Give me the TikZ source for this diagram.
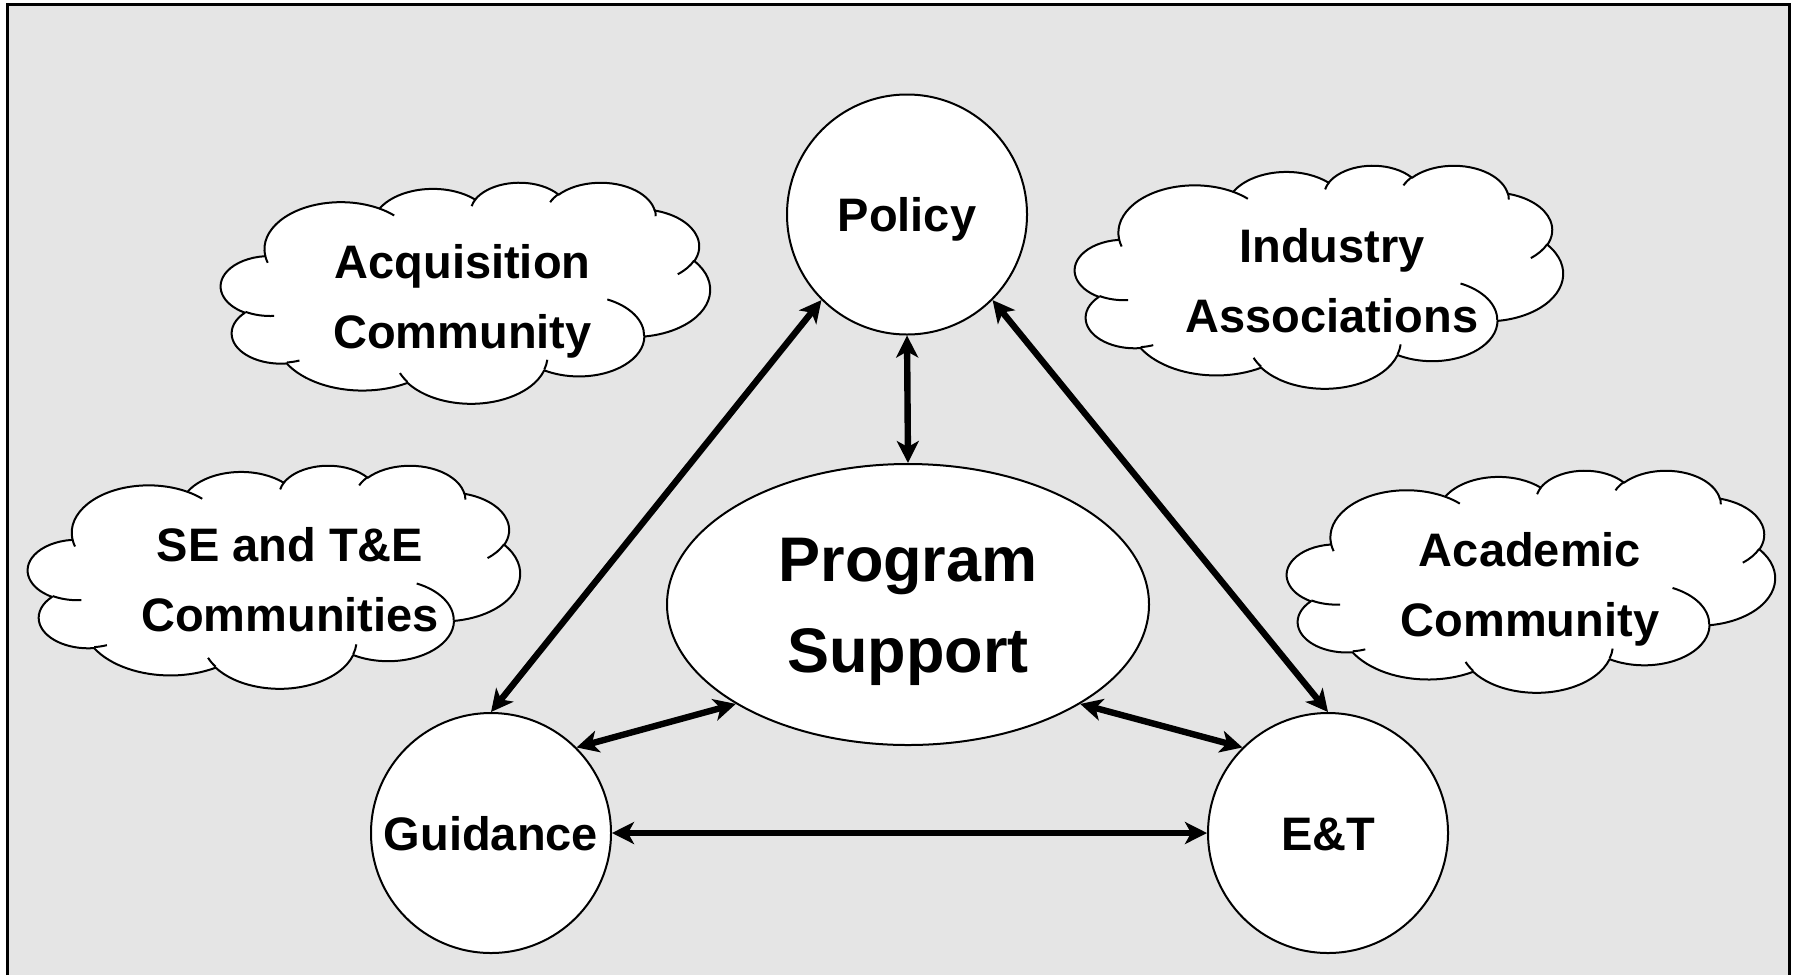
\documentclass[tikz,border=0pt]{standalone}
\usepackage{fontspec}
\setmainfont{Liberation Sans}
\usetikzlibrary{arrows.meta,shapes.geometric}
\definecolor{bggray}{RGB}{229,229,229}
\newcommand\cloudarc[4]{arc[start angle={pa(#3,#1,#2)}, end angle={pa(#3+#4,#1,#2)}, x radius=#1, y radius=#2]}
\newcommand\cstrut{\rule[-12pt]{0pt}{24pt}}
\newcommand\psstrut{\rule[-7pt]{0pt}{36pt}}
\newcommand\pptcloud[4]{%
\begin{scope}[shift={(#1,#2)},xscale=#3/432,yscale=#4/432]
\draw[cloudline,fill=white] (39.00,143.70)
 \cloudarc{67.53}{91.90}{-190.4875}{123.7805}
 \cloudarc{53.33}{72.67}{-144.1024}{89.9452}
 \cloudarc{43.65}{59.45}{-145.8079}{99.7230}
 \cloudarc{48.57}{65.95}{-130.9861}{117.2417}
 \cloudarc{53.33}{72.73}{-78.7089}{109.0269}
 \cloudarc{67.75}{92.20}{-46.2673}{130.2690}
 \cloudarc{57.85}{78.67}{0.6250}{114.0333}
 \cloudarc{67.52}{92.15}{22.4516}{115.1726}
 \cloudarc{77.20}{105.43}{66.2426}{75.7110}
 \cloudarc{43.60}{59.18}{-274.9421}{146.7356}
 \cloudarc{43.45}{59.45}{-246.8285}{152.5189}
 -- cycle;
\draw[cloudline]
 (46.93,261.77) \cloudarc{43.45}{59.45}{86.7420}{26.4295}
 (69.28,348.99) \cloudarc{43.60}{59.18}{73.6105}{11.4475}
 (164.78,390.90) \cloudarc{67.52}{92.15}{137.6242}{14.0811}
 (288.27,347.51) \cloudarc{67.52}{92.15}{6.4533}{15.9984}
 (341.29,229.54) \cloudarc{57.85}{78.67}{-70.2924}{70.9174}
 (417.98,153.54) \cloudarc{53.33}{72.73}{30.3180}{27.7515}
 (383.24,54.26) \cloudarc{48.57}{65.95}{-13.7443}{14.8589}
 (290.78,39.52) \cloudarc{48.57}{65.95}{-149.1815}{18.1954}
 (221.41,47.20) \cloudarc{43.65}{59.45}{-163.4943}{17.6864}
 (140.00,51.92) \cloudarc{67.53}{91.90}{-66.7070}{12.3194}
 (41.27,157.89) \cloudarc{67.53}{91.90}{157.6544}{11.8582};
\end{scope}}
\begin{document}
\begin{tikzpicture}[x=0.5pt,y=-0.5pt,
  declare function={pa(\cA,\cW,\cH)=\cA+Mod(atan2(\cW*sin(\cA),\cH*cos(\cA))-\cA+180,360)-180;},
  cloudline/.style={line width=1pt,line join=round},
  circ/.style={circle,draw,line width=1pt,fill=white,minimum size=120pt,inner sep=0pt,
    font=\bfseries\fontsize{23.5pt}{35pt}\selectfont,text height=17pt,text depth=0pt},
  ell/.style={ellipse,draw,line width=1pt,fill=white,minimum width=241pt,minimum height=140.5pt,
    inner sep=0pt,align=center,font=\bfseries\fontsize{31.5pt}{45.5pt}\selectfont},
  cloudtext/.style={inner sep=0pt,align=center,font=\bfseries\fontsize{23.5pt}{35pt}\selectfont},
  biarrow/.style={line width=3.2pt,
    {Stealth[length=11pt,width=11pt,inset=3pt]}-{Stealth[length=11pt,width=11pt,inset=3pt]}}]
\useasboundingbox (0,0) rectangle (1797,975);
\fill[white] (0,0) rectangle (1797,975);
\fill[bggray] (6,3) rectangle (1791,975);
\draw[line width=1.5pt] (7.5,975) -- (7.5,4.5) -- (1789.5,4.5) -- (1789.5,975);
% clouds
\pptcloud{221}{182}{489}{221}
\pptcloud{1075}{165}{488}{223}
\pptcloud{28}{465}{492}{223}
\pptcloud{1287}{470}{488}{222}
\node[cloudtext] (acq) at (462.5,308) {\cstrut Acquisition\\\cstrut Community};
\node[cloudtext] (ind) at (1332,292.5) {\cstrut Industry\\\cstrut Associations};
\node[cloudtext] (se) at (290,591) {\cstrut SE and T\&E\\\cstrut Communities};
\node[cloudtext] (acad) at (1530,596.5) {\cstrut Academic\\\cstrut Community};
% main nodes
\node[circ] (policy) at (907,214.5) {Policy};
\node[circ] (guid) at (491,833) {Guidance};
\node[circ] (et) at (1328,833) {E\&T};
\node[ell] (ps) at (908,604.5) {\psstrut Program\\\psstrut Support};
% connectors
\draw[biarrow] (policy.south) -- (ps.north);
\draw[biarrow] (policy.225) -- (guid.north);
\draw[biarrow] (policy.-45) -- (et.north);
\draw[biarrow] (guid.45) -- (ps.210);
\draw[biarrow] (et.135) -- (ps.330);
\draw[biarrow] (guid.east) -- (et.west);
\end{tikzpicture}
\end{document}
